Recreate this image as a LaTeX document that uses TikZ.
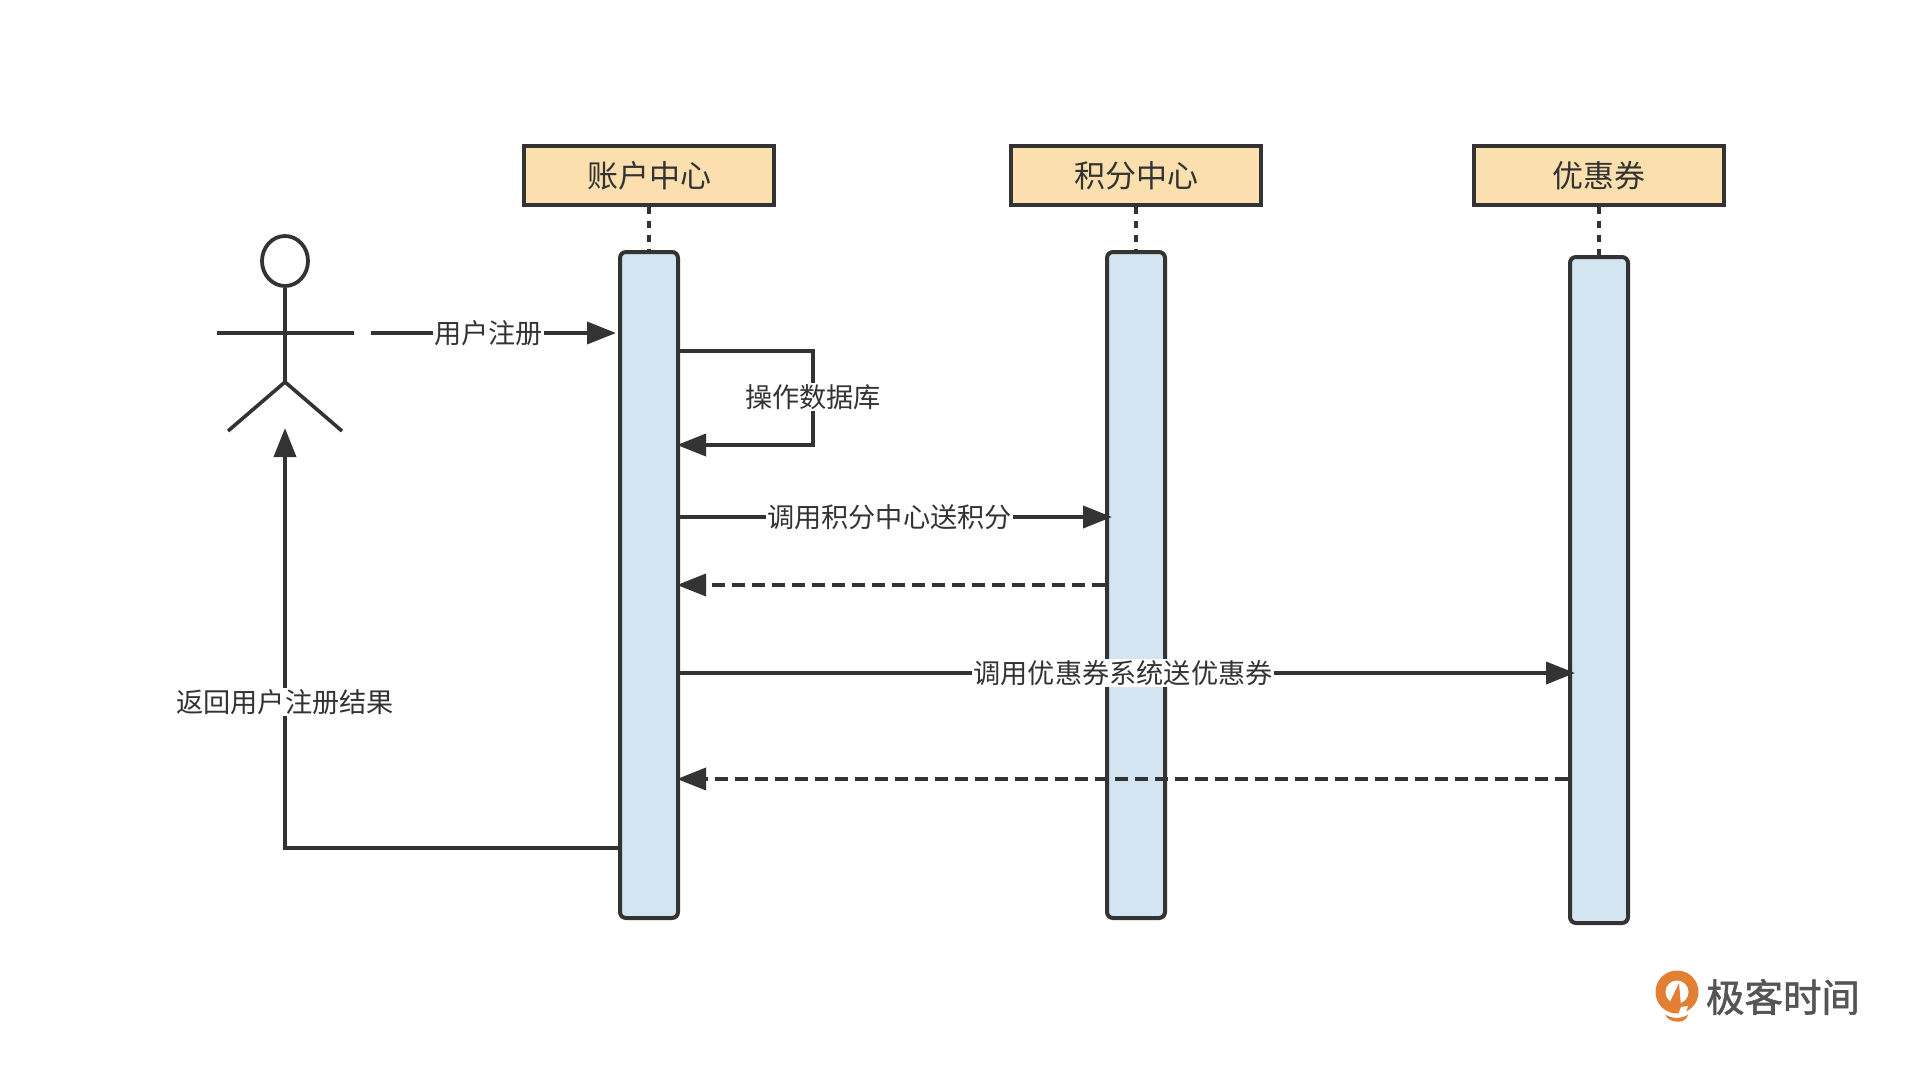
\documentclass[tikz,border=0pt]{standalone}
\usepackage{fontspec}
\setmainfont{Noto Sans CJK SC}
\newfontfamily\logofont[FakeBold=1.5]{Noto Sans CJK SC}
\usetikzlibrary{arrows.meta,shapes.geometric}
\definecolor{ink}{HTML}{333333}
\definecolor{boxfill}{HTML}{FBDFAE}
\definecolor{lifefill}{HTML}{D3E5F0}
\definecolor{logoor}{HTML}{E27F33}
\definecolor{logogrey}{HTML}{555555}
\tikzset{
 hdbox/.style={draw=ink,line width=4pt,fill=boxfill,minimum width=250pt,minimum height=58pt,inner sep=0pt,font=\fontsize{31}{31}\selectfont,text=ink},
 life/.style={draw=ink,line width=4pt,fill=lifefill,rounded corners=6pt,minimum width=58pt,inner sep=0pt},
 conn/.style={draw=ink,line width=3.8pt,-{Triangle[length=29pt,width=22pt]}},
 ret/.style={conn,dash pattern=on 13pt off 7pt},
 plain/.style={draw=ink,line width=3.6pt},
 dots/.style={draw=ink,line width=3.8pt,dash pattern=on 7pt off 7pt},
 lab/.style={fill=white,inner sep=1pt,text=ink,font=\fontsize{27.2}{27.2}\selectfont},
}
\begin{document}
\begin{tikzpicture}[x=1pt,y=-1pt]
\useasboundingbox[fill=white] (0,0) rectangle (1920,1070);
% lifelines
\node[life,minimum height=666pt] (l1) at (649,585) {};
\node[life,minimum height=666pt] (l2) at (1136,585) {};
\node[life,minimum height=666pt] (l3) at (1599,590) {};
% headers
\node[hdbox] (h1) at (649,175.5) {账户中心};
\node[hdbox] (h2) at (1136,175.5) {积分中心};
\node[hdbox] (h3) at (1599,175.5) {优惠券};
\draw[dots] (h1.south) -- (l1.north);
\draw[dots] (h2.south) -- (l2.north);
\draw[dots] (h3.south) -- (l3.north);
% actor
\node[draw=ink,line width=3.8pt,fill=white,ellipse,inner sep=0pt,minimum width=46pt,minimum height=50pt] (ahead) at (285,261) {};
\coordinate (ahip) at (285,382);
\coordinate (aarmL) at (217,333);
\coordinate (aarmR) at (354,333);
\coordinate (alegL) at (228,431);
\coordinate (alegR) at (342,431);
\draw[plain] (ahead.south) -- (ahip);
\draw[plain] (aarmL) -- (aarmR);
\draw[plain] (alegL) -- (ahip) -- (alegR);
% user registers
\coordinate (regstart) at (371,333);
\coordinate (r1) at (0,333);
\draw[conn] (regstart) -- node[lab,pos=.48] (t1) {用户注册} ([xshift=-2pt]l1.west |- r1);
% self call
\coordinate (s1) at (0,351);
\coordinate (s2) at (0,445);
\coordinate (scorner) at (813,0);
\draw[conn] (l1.east |- s1) -- (scorner |- s1) -- node[lab,pos=.49] (t2) {操作数据库} (scorner |- s2) -- ([xshift=-3pt]l1.east |- s2);
% points
\coordinate (p1) at (0,517);
\draw[conn] (l1.east |- p1) -- node[lab,pos=.485] (t3) {调用积分中心送积分} ([xshift=7pt]l2.west |- p1);
\coordinate (p2) at (0,585);
\draw[ret] (l2.west |- p2) -- ([xshift=-3pt]l1.east |- p2);
% coupon
\coordinate (c1) at (0,673);
\draw[conn] (l1.east |- c1) -- node[lab,pos=.495] (t4) {调用优惠券系统送优惠券} ([xshift=7pt]l3.west |- c1);
\coordinate (c2) at (0,779);
\draw[ret] (l3.west |- c2) -- ([xshift=-3pt]l1.east |- c2);
% return
\coordinate (b1) at (0,848);
\coordinate (atip) at (285,428);
\draw[conn] (l1.west |- b1) -- (atip |- b1) -- node[lab,pos=.348] (t5) {返回用户注册结果} (atip);
% logo
\fill[logoor] (1677,992) circle (21.5pt);
\fill[white] (1677,992) circle (11.5pt);
\fill[logoor] (1669,1004) -- (1679,983) -- (1681,1006) -- cycle;
\fill[white] (1681,1007) -- (1688,1006) -- (1685,1015) -- (1678,1015) -- cycle;
\fill[logoor] (1665,1014.5) .. controls (1672,1019) and (1682,1019) .. (1688,1014.5) .. controls (1686,1022) and (1680,1022) .. (1676,1021.5) .. controls (1671,1021) and (1667,1019) .. (1665,1014.5) -- cycle;
\node[inner sep=0pt,text=logogrey,font=\logofont\fontsize{38.5}{38.5}\selectfont] (logotext) at (1783,997) {极客时间};
\end{tikzpicture}
\end{document}
